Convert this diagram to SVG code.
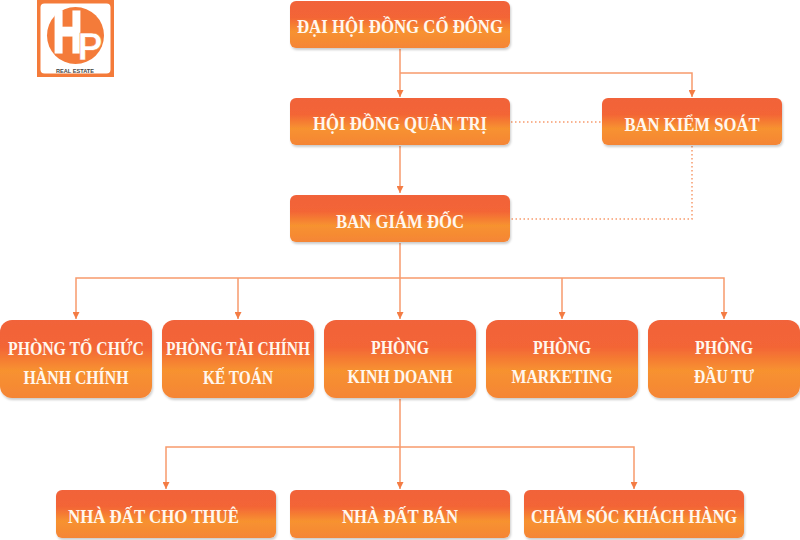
<svg xmlns="http://www.w3.org/2000/svg" width="800" height="540" viewBox="0 0 800 540">
<style>
.box{fill:url(#g);filter:url(#s)}
text{font-family:"Liberation Serif","Times New Roman",serif;font-weight:bold;fill:#fff7ee;font-size:18.5px;text-anchor:middle}
.l{font-family:"Liberation Sans",Arial,sans-serif}
.c{fill:none;stroke:#f79a6c;stroke-width:1.5}
.d{fill:none;stroke:#f79a6c;stroke-width:1.5;stroke-dasharray:1.5 2.5}
.a{marker-end:url(#m)}
</style>
<defs>
<linearGradient id="g" x1="0" y1="0" x2="0" y2="1">
<stop offset="0" stop-color="#f1633a"/><stop offset=".35" stop-color="#f36536"/><stop offset=".65" stop-color="#f7922f"/><stop offset="1" stop-color="#f58536"/>
</linearGradient>
<filter id="s" x="-5%" y="-10%" width="110%" height="125%"><feDropShadow dx="1" dy="2" stdDeviation="1.2" flood-color="#000" flood-opacity=".2"/></filter>
<marker id="m" markerUnits="userSpaceOnUse" markerWidth="8" markerHeight="7" refX="7" refY="3.5" orient="auto"><path d="M0 0L7 3.5L0 7z" fill="#f47c44"/></marker>
</defs>
<g id="connectors">
<path class="c a" d="M400 49V97"/>
<path class="c a" d="M400 73H692V97"/>
<path class="c a" d="M400 146V193"/>
<path class="d" d="M511 122H601"/>
<path class="d" d="M692 146V219H511"/>
<path class="c a" d="M400 243V319"/>
<path class="c a" d="M400 278H76V319"/>
<path class="c a" d="M238 278V319"/>
<path class="c a" d="M400 278H724V319"/>
<path class="c a" d="M562 278V319"/>
<path class="c a" d="M400 399V489"/>
<path class="c a" d="M400 447H166V489"/>
<path class="c a" d="M400 447H634V489"/>
</g>
<g id="logo">
<rect x="37" y="0" width="77" height="77" fill="#f47b3a"/>
<rect x="40.5" y="3.5" width="70" height="70" rx="4" fill="#fff"/>
<circle cx="75.500" cy="35.500" r="28.500" fill="#f47b3a"/>
<text class="l" x="67.500" y="52" style="font-size:58px;fill:#fff;stroke:#fff;stroke-width:3" textLength="29" lengthAdjust="spacingAndGlyphs">H</text>
<text class="l" x="90" y="60" style="font-size:39px;fill:#fff;stroke:#f47b3a;stroke-width:.5" textLength="25" lengthAdjust="spacingAndGlyphs">P</text>
<text class="l" x="75" y="72.500" style="font-size:5.500px;fill:#444" textLength="38" lengthAdjust="spacingAndGlyphs">REAL ESTATE</text>
</g>
<g id="n1"><rect class="box" x="290" y="1" width="220" height="47" rx="6"/><text x="400" y="33" textLength="206" lengthAdjust="spacingAndGlyphs">ĐẠI HỘI ĐỒNG CỔ ĐÔNG</text></g>
<g id="n2"><rect class="box" x="290" y="98" width="220" height="47" rx="6"/><text x="400" y="130" textLength="174" lengthAdjust="spacingAndGlyphs">HỘI ĐỒNG QUẢN TRỊ</text></g>
<g id="n3"><rect class="box" x="602" y="98" width="180" height="47" rx="6"/><text x="692" y="131" textLength="135" lengthAdjust="spacingAndGlyphs">BAN KIỂM SOÁT</text></g>
<g id="n4"><rect class="box" x="290" y="195" width="220" height="47" rx="6"/><text x="400" y="228" textLength="128" lengthAdjust="spacingAndGlyphs">BAN GIÁM ĐỐC</text></g>
<g id="n5"><rect class="box" x="0" y="320" width="152" height="78" rx="12"/><text x="76" y="355" textLength="136" lengthAdjust="spacingAndGlyphs">PHÒNG TỔ CHỨC</text><text x="76" y="384" textLength="105" lengthAdjust="spacingAndGlyphs">HÀNH CHÍNH</text></g>
<g id="n6"><rect class="box" x="162" y="320" width="152" height="78" rx="12"/><text x="238" y="355" textLength="144" lengthAdjust="spacingAndGlyphs">PHÒNG TÀI CHÍNH</text><text x="238" y="384" textLength="70" lengthAdjust="spacingAndGlyphs">KẾ TOÁN</text></g>
<g id="n7"><rect class="box" x="324" y="320" width="152" height="78" rx="12"/><text x="400" y="354" textLength="58" lengthAdjust="spacingAndGlyphs">PHÒNG</text><text x="400" y="383" textLength="105" lengthAdjust="spacingAndGlyphs">KINH DOANH</text></g>
<g id="n8"><rect class="box" x="486" y="320" width="152" height="78" rx="12"/><text x="562" y="354" textLength="58" lengthAdjust="spacingAndGlyphs">PHÒNG</text><text x="562" y="383" textLength="101" lengthAdjust="spacingAndGlyphs">MARKETING</text></g>
<g id="n9"><rect class="box" x="648" y="320" width="152" height="78" rx="12"/><text x="724" y="354" textLength="58" lengthAdjust="spacingAndGlyphs">PHÒNG</text><text x="724" y="383" textLength="60" lengthAdjust="spacingAndGlyphs">ĐẦU TƯ</text></g>
<g id="n10"><rect class="box" x="56" y="490" width="220" height="48" rx="6"/><text x="153.500" y="523" textLength="171" lengthAdjust="spacingAndGlyphs">NHÀ ĐẤT CHO THUÊ</text></g>
<g id="n11"><rect class="box" x="290" y="490" width="220" height="48" rx="6"/><text x="400" y="523" textLength="116" lengthAdjust="spacingAndGlyphs">NHÀ ĐẤT BÁN</text></g>
<g id="n12"><rect class="box" x="524" y="490" width="220" height="48" rx="6"/><text x="634" y="523" textLength="206" lengthAdjust="spacingAndGlyphs">CHĂM SÓC KHÁCH HÀNG</text></g>
</svg>
